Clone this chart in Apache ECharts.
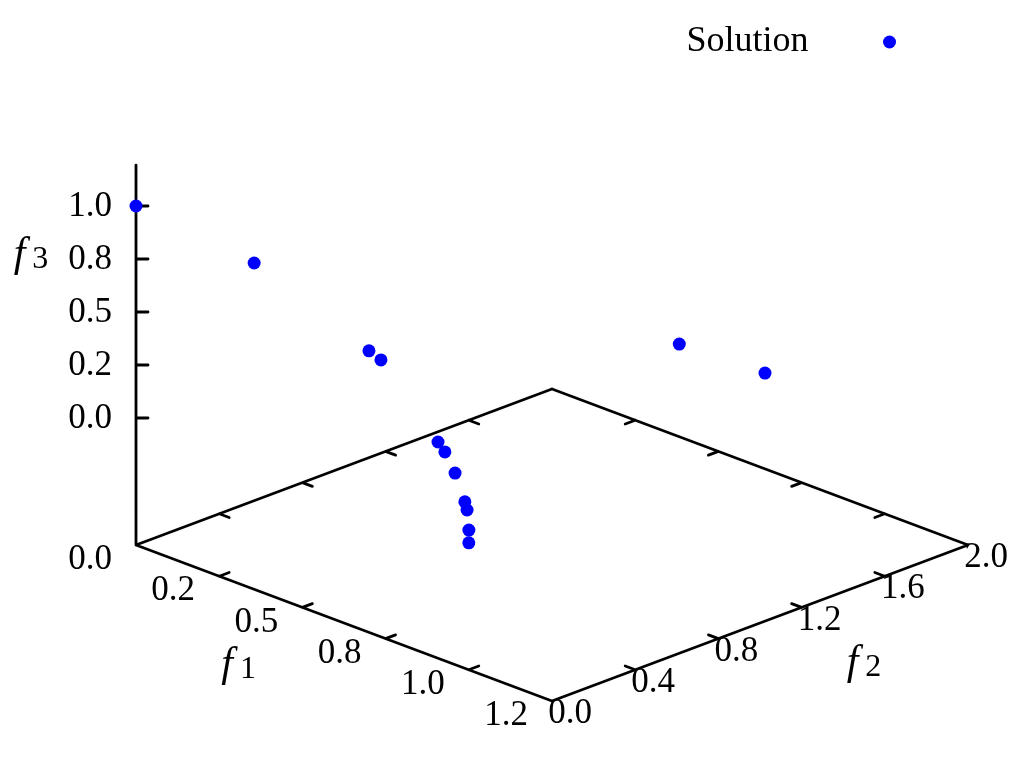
<!DOCTYPE html>
<html><head><meta charset="utf-8">
<style>html,body{margin:0;padding:0;background:#fff}#c{width:1024px;height:757px}</style>
<script src="https://cdn.jsdelivr.net/npm/echarts@6/dist/echarts.min.js"></script>
</head><body><div id="c"></div>
<script>
// Solution points
const f1Values = [0.00,0.355,0.70,0.736,0.52,0.765,0.55,0.60,0.70,0.83,0.866,0.949,1.00];
const f2Values = [0.00,0.00,0.00,0.00,1.78,1.80,0.572,0.525,0.414,0.253,0.206,0.082,0.00];
const f3Values = [1.00,0.94,0.729,0.707,0.00,0.00,0.00,0.00,0.00,0.00,0.00,0.00,0.00];
const f1Ticks = [0,0.25,0.5,0.75,1,1.25];
const f1Labels = ['0.0','0.2','0.5','0.8','1.0','1.2'];
const f2Ticks = [0,0.4,0.8,1.2,1.6,2];
const f2Labels = ['0.0','0.4','0.8','1.2','1.6','2.0'];
const f3Ticks = [0,0.25,0.5,0.75,1];
const f3Labels = ['0.0','0.2','0.5','0.8','1.0'];
const f1Max = 1.25, f2Max = 2, f3Top = 1.193;

// gnuplot-style view projection of (f1,f2,f3) into the hidden plane axes
function proj(a,b,c,base){
  const u=a/f1Max, v=b/f2Max;
  return [136+416*(u+v), 545+156*(u-v)-(base?0:127+212*c)];
}
const serif='"Liberation Serif","Times New Roman",serif';
const segs=[];
function seg(p,q){segs.push(p,q,[null,null]);}
seg(proj(0,0,0,true),proj(f1Max,0,0,true));
seg(proj(f1Max,0,0,true),proj(f1Max,f2Max,0,true));
seg(proj(f1Max,f2Max,0,true),proj(0,f2Max,0,true));
seg(proj(0,f2Max,0,true),proj(0,0,0,true));
seg(proj(0,0,0,true),proj(0,0,f3Top));
const tf=0.024;
f1Ticks.slice(1,-1).forEach(t=>{
  seg(proj(t,0,0,true),proj(t,f2Max*tf,0,true));
  seg(proj(t,f2Max,0,true),proj(t,f2Max*(1-tf),0,true));
});
f2Ticks.slice(1,-1).forEach(t=>{
  seg(proj(f1Max,t,0,true),proj(f1Max*(1-tf),t,0,true));
  seg(proj(0,t,0,true),proj(f1Max*tf,t,0,true));
});
f3Ticks.forEach(t=>{const p=proj(0,0,t);seg(p,[p[0]+12,p[1]]);});

function labelSeries(items,dx,dy){
  const style={show:true,position:'inside',offset:[dx,dy],align:'center',verticalAlign:'middle',
      fontFamily:serif,fontSize:35,color:'#000',textBorderWidth:0};
  return {type:'scatter',symbolSize:0,silent:true,z:5,animation:false,itemStyle:{opacity:1},
    data:items.map(it=>({value:it.p,label:Object.assign({},style,{formatter:it.t})})),
    label:style};
}
const titleRich={f:{fontFamily:serif,fontStyle:'italic',fontSize:42,color:'#000',padding:[0,7,0,0]},
  n:{fontFamily:serif,fontSize:32,color:'#000',padding:[10,0,0,0]}};
function titleSeries(p,n,dx,dy){
  return {type:'scatter',symbolSize:0,silent:true,z:5,animation:false,itemStyle:{opacity:1},
    data:[{value:p}],
    label:{show:true,position:'inside',offset:[dx,dy],align:'center',verticalAlign:'middle',color:'#000',
      formatter:'{f|f}{n|'+n+'}',rich:titleRich}};
}
const chart=echarts.init(document.getElementById('c'),null,{renderer:'canvas'});
chart.setOption({
  animation:false,backgroundColor:'#fff',
  grid:{left:0,top:0,width:1024,height:757},
  xAxis:{type:'value',min:0,max:1024,show:false},
  yAxis:{type:'value',min:0,max:757,inverse:true,show:false},
  legend:{data:['Solution'],align:'right',right:123,top:19,icon:'circle',itemWidth:152,itemHeight:13,
    textStyle:{fontFamily:serif,fontSize:36,color:'#000',padding:[4,0,0,0]}},
  series:[
    {type:'line',name:'axes',data:segs,showSymbol:false,symbol:'none',connectNulls:false,silent:true,clip:false,
      lineStyle:{color:'#000',width:2.8,cap:'round'},z:2},
    {type:'scatter',name:'Solution',symbol:'circle',symbolSize:13,clip:false,z:4,
      itemStyle:{color:'#0000ff',opacity:1},
      data:f1Values.map((a,i)=>proj(a,f2Values[i],f3Values[i]))},
    labelSeries(f1Ticks.map((t,i)=>({p:proj(t,0,0,true),t:f1Labels[i]})),-46,15),
    labelSeries(f2Ticks.map((t,i)=>({p:proj(f1Max,t,0,true),t:f2Labels[i]})),18,13),
    labelSeries(f3Ticks.map((t,i)=>({p:proj(0,0,t),t:f3Labels[i]})),-46,1),
    titleSeries(proj(0,0,0.76),'3',-105,-2),
    titleSeries(proj(0.63,0,0,true),'1',-107,41),
    titleSeries(proj(f1Max,1.25,0,true),'2',52,59)
  ]
});
</script></body></html>
